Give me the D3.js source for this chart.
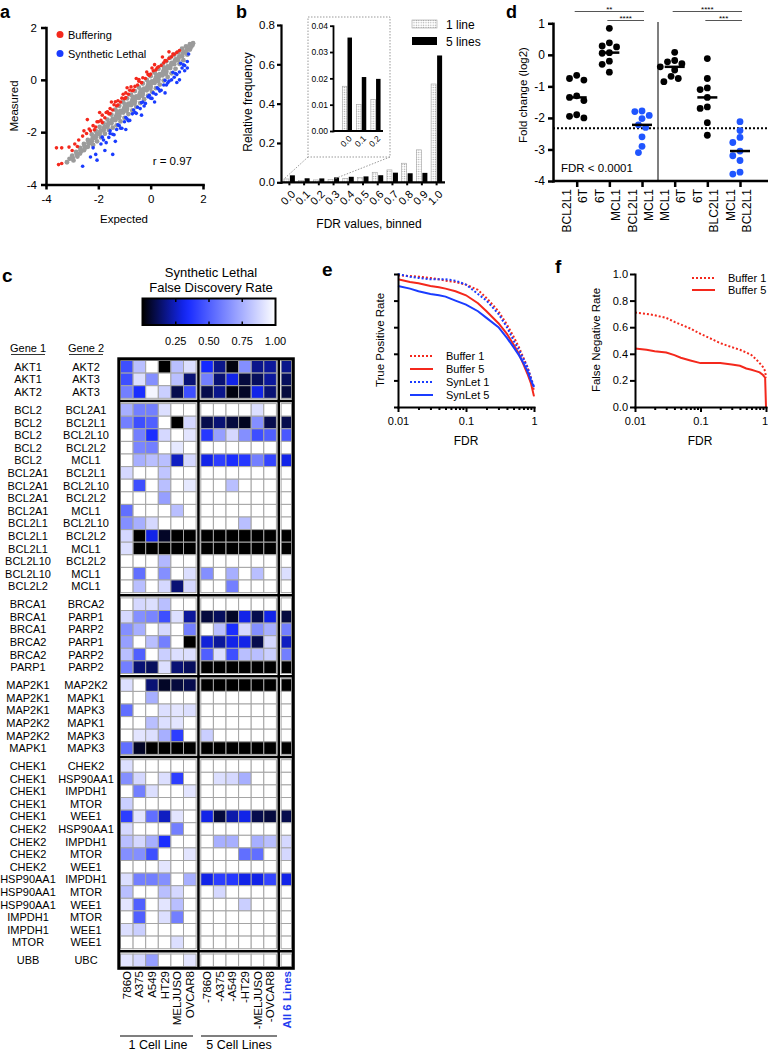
<!DOCTYPE html>
<html><head><meta charset="utf-8">
<script src="https://cdn.jsdelivr.net/npm/d3@7"></script>
<style>
body{margin:0;background:#fff;}
svg{display:block;font-family:"Liberation Sans",Arial,Helvetica,sans-serif;}
</style></head><body>
<svg id="chart" width="768" height="1050"></svg>
<script>
// ---------------- DATA ----------------
// Panel a: scatter (expected, measured)
const grayPts = [
[-3.2,-3.15],[-3.1,-3.02],[-3.0,-2.9],[-2.95,-3.08],[-2.85,-2.75],[-2.8,-2.93],
[-2.7,-2.6],[-2.65,-2.72],[-2.7,-2.82],[-2.55,-2.45],[-2.5,-2.6],[-2.55,-2.69],
[-2.4,-2.3],[-2.35,-2.43],[-2.4,-2.56],
[-2.25,-2.09],[-2.2,-2.22],[-2.25,-2.35],[-2.2,-2.49],
[-2.1,-1.95],[-2.05,-2.08],[-2.1,-2.21],[-2.05,-2.35],
[-1.95,-1.8],[-1.9,-1.94],[-1.95,-2.07],[-1.9,-2.2],
[-1.8,-1.66],[-1.75,-1.8],[-1.8,-1.93],[-1.75,-2.06],
[-1.65,-1.52],[-1.6,-1.65],[-1.65,-1.79],[-1.6,-1.92],
[-1.5,-1.33],[-1.45,-1.49],[-1.5,-1.66],[-1.45,-1.83],
[-1.35,-1.14],[-1.3,-1.34],[-1.35,-1.54],[-1.3,-1.74],
[-1.2,-0.99],[-1.15,-1.19],[-1.2,-1.39],[-1.15,-1.59],
[-1.05,-0.85],[-1.0,-1.05],[-1.05,-1.25],[-1.0,-1.45],
[-0.9,-0.71],[-0.85,-0.91],[-0.9,-1.11],[-0.85,-1.31],
[-0.75,-0.57],[-0.7,-0.77],[-0.75,-0.97],[-0.7,-1.17],
[-0.6,-0.43],[-0.55,-0.63],[-0.6,-0.83],[-0.55,-1.03],
[-0.45,-0.29],[-0.4,-0.49],[-0.45,-0.69],[-0.4,-0.89],
[-0.3,-0.14],[-0.25,-0.34],[-0.3,-0.54],[-0.25,-0.74],
[-0.15,0.0],[-0.1,-0.2],[-0.15,-0.4],[-0.1,-0.6],
[0.0,0.14],[0.05,-0.06],[0.0,-0.26],[0.05,-0.46],
[0.15,0.28],[0.2,0.08],[0.15,-0.12],[0.2,-0.32],
[0.3,0.42],[0.35,0.22],[0.3,0.02],[0.35,-0.18],
[0.45,0.57],[0.5,0.37],[0.45,0.17],[0.5,-0.03],
[0.6,0.71],[0.65,0.51],[0.6,0.31],[0.65,0.11],
[0.75,0.85],[0.8,0.65],[0.75,0.45],[0.8,0.25],
[0.9,0.96],[0.95,0.78],[0.9,0.6],[0.95,0.42],
[1.05,1.05],[1.1,0.9],[1.05,0.76],[1.1,0.61],
[1.2,1.19],[1.25,1.05],[1.2,0.9],[1.25,0.75],
[1.35,1.28],[1.4,1.17],[1.35,1.06],[1.4,0.96],
[1.5,1.36],[1.55,1.26],[1.5,1.16],
[1.62,1.4],[1.6,1.33],
[-2.98,-2.98],[-2.83,-2.83],[-2.68,-2.69],[-2.53,-2.55],[-2.38,-2.41],[-2.23,-2.27],[-2.08,-2.13],
[-1.93,-1.98],[-1.78,-1.84],[-1.63,-1.7],[-1.48,-1.56],[-1.33,-1.42],[-1.18,-1.28],[-1.03,-1.13],
[-0.88,-0.99],[-0.73,-0.85],[-0.58,-0.71],[-0.43,-0.57],[-0.28,-0.42],[-0.13,-0.28],[0.02,-0.14],
[0.17,0.0],[0.32,0.14],[0.47,0.28],[0.62,0.43],[0.77,0.57],[0.92,0.71],[1.07,0.85],[1.22,0.99],
[1.37,1.13],[1.52,1.28],
[-1.28,-1.22],[-0.98,-0.94],[-0.68,-0.66],[-0.38,-0.38],[-0.08,-0.1],[0.22,0.19],[0.52,0.47],
[-1.22,-1.46],[-0.92,-1.18],[-0.62,-0.9],[-0.32,-0.61],[-0.02,-0.33],[0.28,-0.05],[0.58,0.23]
];
const bufferPts = [
[-3.52,-3.24],[-3.4,-3.2],[-3.6,-2.6],[-3.4,-2.6],[-3.12,-2.57],[-2.9,-2.45],[-2.75,-2.3],
[-2.42,-1.52],[-2.6,-2.15],[-2.45,-2.05],[-2.3,-1.95],[-2.2,-1.75],[-2.1,-1.8],[-2.0,-1.6],
[-1.9,-1.55],[-1.85,-1.35],[-1.75,-1.45],[-1.7,-1.25],[-1.6,-1.3],[-1.55,-1.1],[-1.45,-1.15],
[-1.4,-0.95],[-1.3,-1.0],[-1.25,-0.8],[-1.15,-0.85],[-1.1,-0.7],[-1.0,-0.72],[-0.95,-0.5],
[-0.85,-0.55],[-0.8,-0.4],[-0.7,-0.42],[-0.6,-0.25],[-0.5,-0.2],[-0.45,-0.05],[-0.35,-0.1],
[-0.3,0.08],[-0.2,0.05],[-0.1,0.2],[0.0,0.22],[0.1,0.35],[0.2,0.38],[0.3,0.5],[0.4,0.55],
[0.5,0.65],[0.6,0.72],[0.7,0.82],[0.8,0.88],[0.9,0.98],[1.0,1.05],[1.1,1.12],
[-1.95,-1.25],[-1.5,-0.85],[-0.9,-0.3],[-0.55,0.05],[0.05,0.45],
[-2.15,-1.91],[-1.85,-1.63],[-1.55,-1.29],[-1.25,-0.96],[-0.95,-0.68],[-0.65,-0.39],[-0.35,-0.11],
[-0.05,0.17],[0.25,0.46],[0.55,0.74],[0.85,0.99],
[-2.35,-1.88],[-2.05,-1.6],[-1.65,-1.22],[-1.35,-0.84],[-1.05,-0.55],[-0.75,-0.27],[-0.45,0.01],
[-0.15,0.3],[0.15,0.58],[0.45,0.87],[0.7,1.07],[-2.55,-1.95],[-2.8,-2.55],[-3.0,-2.7]
];
const synLethalPts = [
[-2.6,-3.3],[-2.1,-2.85],[-2.05,-3.07],[-1.45,-2.85],[-2.2,-2.6],[-1.9,-2.45],[-1.8,-2.3],
[-1.7,-2.4],[-1.6,-2.2],[-1.55,-2.05],[-1.4,-2.1],[-1.3,-1.9],[-1.2,-1.75],[-1.1,-1.85],
[-1.0,-1.6],[-0.9,-1.5],[-0.8,-1.55],[-0.7,-1.3],[-0.6,-1.25],[-0.5,-1.05],[-0.4,-1.1],
[-0.3,-0.85],[-0.2,-0.9],[-0.1,-0.65],[0.0,-0.7],[0.1,-0.5],[0.2,-0.55],[0.3,-0.35],
[0.4,-0.4],[0.5,-0.2],[0.6,-0.2],[0.7,-0.05],[0.8,0.0],[0.9,0.1],[1.0,0.2],[1.1,0.3],
[1.2,0.45],[1.3,0.55],[1.4,0.7],[-1.35,-2.35],[-0.95,-1.9],[-0.35,-1.35],[0.15,-0.85],
[0.55,-0.5],[1.0,-0.1],[-1.75,-2.7],[-2.3,-2.95],[1.1,0.0],
[-1.85,-2.19],[-1.55,-1.95],[-1.25,-1.72],[-0.95,-1.44],[-0.65,-1.15],[-0.35,-0.87],[-0.05,-0.59],
[0.25,-0.3],[0.55,-0.02],[0.85,0.29],[1.15,0.63],[1.45,0.99],
[-1.45,-2.08],[-1.15,-1.85],[-0.85,-1.56],[-0.55,-1.28],[-0.25,-1.0],[0.05,-0.71],[0.35,-0.43],
[0.65,-0.12],[0.95,0.24],[1.25,0.57],[1.4,0.45],[1.3,0.35]
];
const scatterR = "r = 0.97";
const aTicks = [-4,-2,0,2];

// Panel b: FDR histogram
const fdrBins = ["0.0","0.1","0.2","0.3","0.4","0.5","0.6","0.7","0.8","0.9","1.0"];
const oneLine  = [0.017,0.010,0.012,0.015,0.020,0.025,0.051,0.063,0.097,0.165,0.50];
const fiveLines= [0.0355,0.0205,0.0198,0.025,0.028,0.030,0.036,0.049,0.046,0.048,0.645];
const insetBins = ["0.0","0.1","0.2"];
const bTicks = [0,0.2,0.4,0.6,0.8];
const insetTicks = [0,0.01,0.02,0.03,0.04];

// Panel c: heatmap
const gene1 = ["AKT1","AKT1","AKT2",
"BCL2","BCL2","BCL2","BCL2","BCL2","BCL2A1","BCL2A1","BCL2A1","BCL2A1","BCL2L1","BCL2L1","BCL2L1","BCL2L10","BCL2L10","BCL2L2",
"BRCA1","BRCA1","BRCA1","BRCA2","BRCA2","PARP1",
"MAP2K1","MAP2K1","MAP2K1","MAP2K2","MAP2K2","MAPK1",
"CHEK1","CHEK1","CHEK1","CHEK1","CHEK1","CHEK2","CHEK2","CHEK2","CHEK2","HSP90AA1","HSP90AA1","HSP90AA1","IMPDH1","IMPDH1","MTOR",
"UBB"];
const gene2 = ["AKT2","AKT3","AKT3",
"BCL2A1","BCL2L1","BCL2L10","BCL2L2","MCL1","BCL2L1","BCL2L10","BCL2L2","MCL1","BCL2L10","BCL2L2","MCL1","BCL2L2","MCL1","MCL1",
"BRCA2","PARP1","PARP2","PARP1","PARP2","PARP2",
"MAP2K2","MAPK1","MAPK3","MAPK1","MAPK3","MAPK3",
"CHEK2","HSP90AA1","IMPDH1","MTOR","WEE1","HSP90AA1","IMPDH1","MTOR","WEE1","IMPDH1","MTOR","WEE1","MTOR","WEE1","WEE1",
"UBC"];
const groupSizes = [3,15,6,6,15,1];
const cellLines1 = ["786O","A375","A549","HT29","MELJUSO","OVCAR8"];
const cellLines5 = ["-786O","-A375","-A549","-HT29","-MELJUSO","-OVCAR8"];
const allLines = ["All 6 Lines"];
const fdrMatrix = [
[0.45,0.8,1,0,0.8,0.9, 0.33,0.18,0.02,0.65,0.18,0.2, 0.18],
[0.45,0.9,0.65,1,0.8,0.15, 0.6,0.15,0.3,0.08,0.12,0.2, 0.12],
[0.6,0.35,0.97,0.85,0.1,0.45, 0.1,0.18,0.02,0.05,0.3,0.15, 0.08],
[0.75,0.6,0.6,0.9,1,1, 1,1,1,1,0.9,1, 1],
[0.6,0.45,0.5,1,0,0.88, 0.1,0.15,0.08,0.04,0.65,0.1, 0.1],
[1,0.6,0.35,0.88,1,0.92, 0.38,0.7,0.88,0.65,0.45,0.5, 0.48],
[1,0.62,0.6,1,0.93,1, 1,1,1,1,1,1, 1],
[1,0.75,0.8,0.8,0.25,0.88, 0.3,0.4,0.35,0.38,0.6,0.42, 0.3],
[0.88,1,1,0.82,1,1, 1,1,1,1,1,1, 1],
[1,0.45,1,0.8,1,0.93, 1,1,0.8,1,1,1, 1],
[1,1,1,0.7,1,1, 1,1,1,1,1,1, 1],
[0.55,1,1,1,0.8,1, 1,1,1,1,1,1, 1],
[0.65,0.75,0.88,1,1,1, 1,1,1,0.8,1,1, 1],
[0.88,0,0.3,0.05,0,0, 0,0,0,0,0,0, 0],
[0.9,0,0,0,0,0, 0,0,0,0,0,0, 0],
[1,1,1,0.78,1,1, 1,1,1,1,1,1, 1],
[1,0.55,1,0.65,1,0.9, 0.65,1,0.75,1,0.8,1, 0.9],
[1,0.8,1,0.88,0.15,0.88, 1,1,0.6,1,1,1, 1],
[1,0.88,0.9,0.8,1,1, 1,1,1,1,1,1, 1],
[0.88,0.65,0.62,0.45,0.9,0.2, 0.08,0.12,0.05,0.3,0.1,0.3, 0.08],
[0.65,0.75,1,0.88,1,0.6, 1,0.8,0.35,0.88,0.65,0.75, 0.6],
[0.7,1,0.8,0.6,1,0, 0.28,0.2,0.3,0.3,0.1,0.88, 0.25],
[0.8,0.5,1,0.85,0.9,0.9, 0.5,0.9,0.45,0.8,0.8,0.85, 0.6],
[0.6,0.15,0.12,0.9,0.15,0.12, 0,0,0,0,0,0, 0],
[0.9,1,0.15,0.05,0.08,0.1, 0,0,0,0,0,0, 0],
[1,1,0.75,1,1,1, 1,1,1,1,1,1, 1],
[0.55,1,1,0.9,0.92,0.9, 1,1,1,1,1,1, 1],
[1,1,0.8,0.9,0.92,1, 1,1,1,1,1,1, 1],
[1,0.92,0.9,0.75,0.4,1, 0.85,1,1,1,1,1, 1],
[0.55,0.05,0,0,0,0, 0,0,0,0,0,0, 0],
[0.9,1,1,1,1,1, 1,1,1,1,1,1, 1],
[0.65,0.88,1,0.9,0.4,1, 1,0.9,0.88,0.75,1,1, 1],
[1,0.6,0.9,1,1,0.92, 1,1,1,1,1,1, 1],
[0.85,1,1,1,1,1, 1,1,1,1,1,1, 1],
[0.4,0.92,0.55,0.25,0.92,1, 0.3,0.08,0.22,0.3,0.1,0.08, 0.1],
[0.88,1,1,1,0.6,1, 1,1,1,1,1,1, 1],
[0.8,0.88,0.75,0.35,1,1, 1,0.75,0.75,1,0.75,0.8, 0.88],
[0.65,0.65,0.45,1,1,0.92, 1,1,1,0.55,0.55,1, 0.88],
[1,1,1,0.92,1,1, 1,1,1,1,1,1, 1],
[0.9,0.6,0.6,0.65,1,0.75, 0.3,0.4,0.38,0.3,0.3,0.42, 0.3],
[0.8,1,1,0.8,0.88,1, 1,0.88,1,1,1,1, 1],
[0.92,0.5,1,0.92,0.8,1, 1,1,1,0.85,1,1, 1],
[1,0.5,1,0.9,0.6,1, 1,1,1,1,1,1, 1],
[0.9,0.85,1,1,1,1, 1,1,1,1,1,1, 1],
[1,1,1,1,0.9,1, 1,1,1,1,1,1, 1],
[0.92,0.88,0.7,1,1,0.92, 1,1,1,1,1,1, 1]
];
const legendTicks = [0.25,0.5,0.75,1.0];

// Panel d: fold changes
const dLabels = [["BCL2L1","6T"],["6T","MCL1"],["BCL2L1","MCL1"],["MCL1","6T"],["6T","BLC2L1"],["MCL1","BCL2L1"]];
const dValues = [
[-0.65,-0.75,-0.8,-1.3,-1.35,-1.45,-1.9,-1.95,-2.0],
[0.84,0.38,0.28,0.25,0.07,0.05,-0.2,-0.3,-0.55],
[-1.78,-1.8,-1.92,-2.02,-2.22,-2.3,-2.6,-2.9,-3.1],
[0.08,-0.18,-0.22,-0.28,-0.38,-0.48,-0.68,-0.75,-0.85],
[-0.12,-0.75,-1.05,-1.1,-1.35,-1.65,-1.7,-2.15,-2.55],
[-2.12,-2.4,-2.62,-2.78,-3.05,-3.2,-3.35,-3.72,-3.78]
];
const dSynLethal = [false,false,true,false,false,true];
const dThreshold = -2.33;
const dYTicks = [-4,-3,-2,-1,0,1];
const dSig = [[0,2,"**",1],[1,2,"****",2],[3,5,"****",1],[4,5,"***",2]];

// Panel e / f: rates vs FDR
const eFDR = [0.01,0.015,0.02,0.03,0.04,0.05,0.07,0.1,0.15,0.2,0.3,0.4,0.5,0.6,0.7,0.8,0.9,1.0];
const eBuffer1 = [0.99,0.985,0.98,0.97,0.96,0.95,0.94,0.92,0.88,0.82,0.72,0.62,0.53,0.45,0.37,0.3,0.22,0.12];
const eBuffer5 = [0.96,0.94,0.93,0.91,0.9,0.89,0.87,0.84,0.78,0.72,0.63,0.55,0.47,0.4,0.32,0.25,0.18,0.08];
const eSynLet1 = [1.0,0.98,0.97,0.96,0.96,0.96,0.95,0.92,0.85,0.8,0.7,0.6,0.5,0.43,0.36,0.3,0.22,0.15];
const eSynLet5 = [0.91,0.89,0.87,0.85,0.84,0.83,0.8,0.77,0.72,0.67,0.6,0.52,0.45,0.39,0.33,0.27,0.2,0.15];
const fFDR = [0.01,0.015,0.02,0.03,0.04,0.05,0.07,0.1,0.15,0.2,0.3,0.4,0.5,0.6,0.7,0.8,0.9,0.97,1.0];
const fBuffer1 = [0.71,0.70,0.69,0.67,0.64,0.62,0.59,0.55,0.51,0.48,0.45,0.43,0.41,0.39,0.36,0.33,0.30,0.27,0.22];
const fBuffer5 = [0.44,0.43,0.42,0.41,0.39,0.37,0.35,0.33,0.33,0.33,0.32,0.31,0.29,0.28,0.27,0.26,0.24,0.22,0.0];
const logMajor = [0.01,0.1,1];
const logMinor = [0.02,0.03,0.04,0.05,0.06,0.07,0.08,0.09,0.2,0.3,0.4,0.5,0.6,0.7,0.8,0.9];
const rateTicks = [0,0.2,0.4,0.6,0.8,1.0];

// ---------------- DRAWING ----------------
const FONT = '"Liberation Sans", Arial, Helvetica, sans-serif';
const RED = "#f4281c", BLUE = "#1a3cff", BLUE_PT = "#1f55ff";
const svg = d3.select("#chart");
svg.append("rect").attr("width",768).attr("height",1050).attr("fill","#fff");
const defs = svg.append("defs");
const intFmt = d => String(d);

function styleAxis(g, sw, fs){
  g.attr("font-family", FONT).attr("font-size", fs);
  g.select(".domain").attr("stroke","#000").attr("stroke-width", sw).attr("stroke-linecap","square");
  g.selectAll(".tick line").attr("stroke","#000").attr("stroke-width", sw);
  g.selectAll(".tick text").attr("fill","#000");
  return g;
}
function txt(x,y,s,fs,opts={}){
  const t = svg.append("text").attr("x",x).attr("y",y).attr("font-size",fs).attr("font-family",FONT).text(s);
  if(opts.anchor) t.attr("text-anchor",opts.anchor);
  if(opts.weight) t.attr("font-weight",opts.weight);
  if(opts.fill) t.attr("fill",opts.fill);
  if(opts.rotate!==undefined) t.attr("transform",`rotate(${opts.rotate},${x},${y})`);
  if(opts.dy) t.attr("dy",opts.dy);
  return t;
}
// panel letters
txt(0,18,"a",18,{weight:"bold"});
txt(236,18,"b",18,{weight:"bold"});
txt(506,18,"d",18,{weight:"bold"});
txt(2,282,"c",19,{weight:"bold"});
txt(322,276,"e",19,{weight:"bold"});
txt(555,273,"f",19,{weight:"bold"});

// ===== Panel a =====
(function(){
  const x = d3.scaleLinear().domain([-4,2]).range([46,203]);
  const y = d3.scaleLinear().domain([-4,2]).range([184.5,27.5]);
  const g = svg.append("g");
  g.selectAll("circle.gr").data(grayPts).join("circle").attr("class","gr")
    .attr("cx",d=>x(d[0])).attr("cy",d=>y(d[1])).attr("r",2.4).attr("fill","#9b9b9b");
  g.selectAll("circle.bf").data(bufferPts).join("circle").attr("class","bf")
    .attr("cx",d=>x(d[0])).attr("cy",d=>y(d[1])).attr("r",1.8).attr("fill",RED);
  g.selectAll("circle.sl").data(synLethalPts).join("circle").attr("class","sl")
    .attr("cx",d=>x(d[0])).attr("cy",d=>y(d[1])).attr("r",1.8).attr("fill",BLUE);
  styleAxis(svg.append("g").attr("transform","translate(0,184.5)")
    .call(d3.axisBottom(x).tickValues(aTicks).tickFormat(intFmt).tickSize(5).tickSizeOuter(0).tickPadding(5)),2.5,11.5);
  styleAxis(svg.append("g").attr("transform","translate(46,0)")
    .call(d3.axisLeft(y).tickValues(aTicks).tickFormat(intFmt).tickSize(5).tickSizeOuter(0).tickPadding(4)),2.5,11.5);
  txt(18,106,"Measured",11.5,{anchor:"middle",rotate:-90});
  txt(124,223,"Expected",11.5,{anchor:"middle"});
  svg.append("circle").attr("cx",60).attr("cy",34.5).attr("r",3.5).attr("fill",RED);
  txt(68,38.5,"Buffering",11);
  svg.append("circle").attr("cx",60).attr("cy",53.5).attr("r",3.5).attr("fill",BLUE);
  txt(68,57.5,"Synthetic Lethal",11);
  txt(192,165,scatterR,11.5,{anchor:"end"});
})();

// ===== Panel b =====
(function(){
  const pat = defs.append("pattern").attr("id","dots").attr("width",2.4).attr("height",2.4)
    .attr("patternUnits","userSpaceOnUse");
  pat.append("rect").attr("width",2.4).attr("height",2.4).attr("fill","#fff");
  pat.append("circle").attr("cx",1.2).attr("cy",1.2).attr("r",0.65).attr("fill","#9a9a9a");

  const x = d3.scaleBand().domain(fdrBins).range([281,445]).paddingOuter(0.07);
  const y = d3.scaleLinear().domain([0,0.8]).range([182.3,25]);
  const g = svg.append("g");
  g.selectAll("rect.h").data(fdrBins).join("rect").attr("class","h")
    .attr("x",d=>x(d)+x.bandwidth()/2-5.5).attr("width",5)
    .attr("y",(d,i)=>y(oneLine[i])).attr("height",(d,i)=>y(0)-y(oneLine[i]))
    .attr("fill","url(#dots)").attr("stroke","#a0a0a0").attr("stroke-width",0.6);
  g.selectAll("rect.k").data(fdrBins).join("rect").attr("class","k")
    .attr("x",d=>x(d)+x.bandwidth()/2+0.5).attr("width",5)
    .attr("y",(d,i)=>y(fiveLines[i])).attr("height",(d,i)=>y(0)-y(fiveLines[i]))
    .attr("fill","#000");
  styleAxis(svg.append("g").attr("transform","translate(281,0)")
    .call(d3.axisLeft(y).tickValues(bTicks).tickFormat(d3.format(".1f")).tickSize(4).tickSizeOuter(0).tickPadding(2)),2.2,11.5);
  const xa = svg.append("g").attr("transform","translate(0,182.3)")
    .call(d3.axisBottom(x).tickSize(3).tickSizeOuter(0));
  styleAxis(xa,2,11);
  xa.select(".domain").remove();
  xa.selectAll(".tick text").attr("x",0).attr("y",0).attr("dy","0.35em")
    .attr("text-anchor","end").attr("transform","translate(4,10) rotate(-45)");
  svg.append("line").attr("x1",281).attr("x2",445).attr("y1",182.3).attr("y2",182.3)
    .attr("stroke","#000").attr("stroke-width",2.2);
  txt(252,102,"Relative frequency",12,{anchor:"middle",rotate:-90});
  txt(369,228,"FDR values, binned",12,{anchor:"middle"});

  // inset
  svg.append("rect").attr("x",308).attr("y",17).attr("width",82).attr("height",140)
    .attr("fill","#fff").attr("stroke","#999").attr("stroke-width",1).attr("stroke-dasharray","1.5,1.5");
  svg.append("line").attr("x1",308).attr("y1",157).attr("x2",284).attr("y2",179)
    .attr("stroke","#999").attr("stroke-width",1).attr("stroke-dasharray","1.5,1.5");
  svg.append("line").attr("x1",390).attr("y1",157).attr("x2",334).attr("y2",179)
    .attr("stroke","#999").attr("stroke-width",1).attr("stroke-dasharray","1.5,1.5");
  const xi = d3.scaleBand().domain(insetBins).range([333,383]).paddingOuter(0.25).align(1);
  const yi = d3.scaleLinear().domain([0,0.04]).range([131,25.7]);
  const gi = svg.append("g");
  gi.selectAll("rect.h").data(insetBins).join("rect").attr("class","h")
    .attr("x",d=>xi(d)+xi.bandwidth()/2-5).attr("width",4.5)
    .attr("y",(d,i)=>yi(oneLine[i])).attr("height",(d,i)=>yi(0)-yi(oneLine[i]))
    .attr("fill","url(#dots)").attr("stroke","#a0a0a0").attr("stroke-width",0.6);
  gi.selectAll("rect.k").data(insetBins).join("rect").attr("class","k")
    .attr("x",d=>xi(d)+xi.bandwidth()/2+0.2).attr("width",4.5)
    .attr("y",(d,i)=>yi(fiveLines[i])).attr("height",(d,i)=>yi(0)-yi(fiveLines[i]))
    .attr("fill","#000");
  styleAxis(svg.append("g").attr("transform","translate(333,0)")
    .call(d3.axisLeft(yi).tickValues(insetTicks).tickFormat(d3.format(".2f")).tickSize(3).tickSizeOuter(0).tickPadding(2)),1.8,8.5);
  const xia = svg.append("g").attr("transform","translate(0,131)")
    .call(d3.axisBottom(xi).tickSize(0).tickSizeOuter(0));
  styleAxis(xia,1.8,8.5);
  xia.select(".domain").remove();
  xia.selectAll(".tick text").attr("x",0).attr("y",0).attr("dy","0.35em")
    .attr("text-anchor","end").attr("transform","translate(3,6) rotate(-45)");
  svg.append("line").attr("x1",333).attr("x2",383).attr("y1",131).attr("y2",131)
    .attr("stroke","#000").attr("stroke-width",1.8);

  // legend
  svg.append("rect").attr("x",412).attr("y",20).attr("width",25).attr("height",8)
    .attr("fill","url(#dots)").attr("stroke","#a0a0a0").attr("stroke-width",0.6);
  txt(446,28.5,"1 line",12);
  svg.append("rect").attr("x",412).attr("y",37).attr("width",25).attr("height",8).attr("fill","#000");
  txt(446,45.5,"5 lines",12);
})();

// ===== Panel d =====
(function(){
  const x = d3.scalePoint().domain(d3.range(6)).range([576.7,740]);
  const y = d3.scaleLinear().domain([-4,1]).range([181,23.3]);
  svg.append("line").attr("x1",553).attr("x2",768).attr("y1",y(dThreshold)).attr("y2",y(dThreshold))
    .attr("stroke","#000").attr("stroke-width",2).attr("stroke-dasharray","2,2");
  svg.append("line").attr("x1",658).attr("x2",658).attr("y1",22).attr("y2",181)
    .attr("stroke","#555").attr("stroke-width",1.5);
  const r = 3.4;
  dValues.forEach((vals,gi)=>{
    const cx = x(gi);
    const placed = [];
    const cands = [0,-3.6,3.6,-7.2,7.2,-10.8,10.8,-14.4,14.4];
    const pts = vals.map(v=>{
      const py = y(v);
      let off = 0;
      for(const c of cands){
        if(placed.every(p=>Math.hypot(p[0]-(cx+c),p[1]-py) >= 2*r)){ off = c; break; }
      }
      placed.push([cx+off,py]);
      return [cx+off,py];
    });
    svg.append("g").selectAll("circle").data(pts).join("circle")
      .attr("cx",d=>d[0]).attr("cy",d=>d[1]).attr("r",r)
      .attr("fill",dSynLethal[gi]?BLUE_PT:"#000");
    const m = d3.median(vals);
    svg.append("line").attr("x1",cx-10).attr("x2",cx+10).attr("y1",y(m)).attr("y2",y(m))
      .attr("stroke","#000").attr("stroke-width",2.5);
  });
  styleAxis(svg.append("g").attr("transform","translate(553,0)")
    .call(d3.axisLeft(y).tickValues(dYTicks).tickFormat(intFmt).tickSize(5).tickSizeOuter(0).tickPadding(3)),2.5,12);
  const xa = svg.append("g").attr("transform","translate(0,181)")
    .call(d3.axisBottom(x).tickSize(6).tickFormat(""));
  styleAxis(xa,2.5,12);
  xa.select(".domain").remove();
  svg.append("line").attr("x1",553).attr("x2",768).attr("y1",181).attr("y2",181)
    .attr("stroke","#000").attr("stroke-width",2.5);
  dLabels.forEach((pair,i)=>{
    const cx = x(i);
    txt(cx-9.5,189,pair[0],12,{anchor:"end",rotate:-90,dy:"0.35em"});
    txt(cx+6.5,189,pair[1],12,{anchor:"end",rotate:-90,dy:"0.35em"});
  });
  dSig.forEach(([a,b,s,lvl])=>{
    const yy = lvl===1?11.5:20.5;
    svg.append("line").attr("x1",x(a)-2).attr("x2",x(b)+2).attr("y1",yy).attr("y2",yy)
      .attr("stroke","#555").attr("stroke-width",1);
    txt((x(a)+x(b))/2,yy+0.5,s,8,{anchor:"middle"});
  });
  txt(561,172,"FDR < 0.0001",11.5);
  txt(523,95,"Fold change (log2)",11.5,{anchor:"middle",rotate:-90,dy:"0.35em"});
})();

// ===== Panel e & f =====
function logAxis(tx,ty,scale){
  const g = svg.append("g").attr("transform",`translate(${tx},${ty})`)
    .call(d3.axisBottom(scale).tickValues(logMajor.concat(logMinor)).tickSize(5).tickSizeOuter(0).tickPadding(5)
      .tickFormat(d=>logMajor.includes(d)?String(d):""));
  styleAxis(g,2,11);
  g.selectAll(".tick").filter(d=>!logMajor.includes(d)).select("line").attr("y2",3);
  return g;
}
(function(){
  const x = d3.scaleLog().domain([0.01,1]).range([398,534]);
  const y = d3.scaleLinear().domain([0,1]).range([407,274]);
  const line = d3.line().x(d=>x(d[0])).y(d=>y(d[1]));
  const series = [
    [eBuffer1,RED,"2,2","Buffer 1"],[eBuffer5,RED,null,"Buffer 5"],
    [eSynLet1,BLUE,"2,2","SynLet 1"],[eSynLet5,BLUE,null,"SynLet 5"]];
  series.forEach(([vals,col,dash,name],i)=>{
    const p = svg.append("path").datum(eFDR.map((f,k)=>[f,vals[k]])).attr("d",line)
      .attr("fill","none").attr("stroke",col).attr("stroke-width",2);
    if(dash) p.attr("stroke-dasharray",dash);
    const ly = 356+i*13;
    const l = svg.append("line").attr("x1",410).attr("x2",433).attr("y1",ly).attr("y2",ly)
      .attr("stroke",col).attr("stroke-width",2);
    if(dash) l.attr("stroke-dasharray",dash);
    txt(446,ly+4,name,11);
  });
  logAxis(0,407,x);
  styleAxis(svg.append("g").attr("transform","translate(398,0)")
    .call(d3.axisLeft(y).tickValues(rateTicks).tickSize(4).tickSizeOuter(0).tickFormat("")),2,11);
  txt(384,340,"True Positive Rate",11.5,{anchor:"middle",rotate:-90});
  txt(466,445,"FDR",12,{anchor:"middle"});
})();
(function(){
  const x = d3.scaleLog().domain([0.01,1]).range([635,766]);
  const y = d3.scaleLinear().domain([0,1]).range([407,274]);
  const line = d3.line().x(d=>x(d[0])).y(d=>y(d[1]));
  const series = [[fBuffer1,"2,2","Buffer 1"],[fBuffer5,null,"Buffer 5"]];
  series.forEach(([vals,dash,name],i)=>{
    const p = svg.append("path").datum(fFDR.map((f,k)=>[f,vals[k]])).attr("d",line)
      .attr("fill","none").attr("stroke",RED).attr("stroke-width",2);
    if(dash) p.attr("stroke-dasharray",dash);
    const ly = 278+i*12;
    const l = svg.append("line").attr("x1",692).attr("x2",715).attr("y1",ly).attr("y2",ly)
      .attr("stroke",RED).attr("stroke-width",2);
    if(dash) l.attr("stroke-dasharray",dash);
    txt(728,ly+4,name,11);
  });
  const fx = logAxis(0,407,x);
  fx.selectAll(".tick").filter(d=>d===1).select("text").attr("text-anchor","end").attr("dx","1.5");
  styleAxis(svg.append("g").attr("transform","translate(635,0)")
    .call(d3.axisLeft(y).tickValues(rateTicks).tickFormat(d3.format(".1f")).tickSize(5).tickSizeOuter(0).tickPadding(2)),2,11);
  txt(600,340,"False Negative Rate",11.5,{anchor:"middle",rotate:-90});
  txt(700,445,"FDR",12,{anchor:"middle"});
})();

// ===== Panel c =====
(function(){
  const color = d3.scaleLinear().domain([0,0.33,1]).range(["#000000","#1428ff","#ffffff"]);
  txt(211,276.5,"Synthetic Lethal",13,{anchor:"middle"});
  txt(211,292,"False Discovery Rate",13,{anchor:"middle"});
  const lx = d3.scaleLinear().domain([0,1]).range([142.5,275.5]);
  const grad = defs.append("linearGradient").attr("id","fdrgrad");
  d3.range(0,1.0001,0.05).forEach(t=>grad.append("stop").attr("offset",t).attr("stop-color",color(t)));
  svg.append("rect").attr("x",lx(0)).attr("y",298.5).attr("width",lx(1)-lx(0)).attr("height",26.5)
    .attr("fill","url(#fdrgrad)").attr("stroke","#000").attr("stroke-width",2);
  legendTicks.slice(0,3).forEach(t=>{
    svg.append("line").attr("x1",lx(t)).attr("x2",lx(t)).attr("y1",298.5).attr("y2",302)
      .attr("stroke","#000").attr("stroke-width",1.5);
    svg.append("line").attr("x1",lx(t)).attr("x2",lx(t)).attr("y1",321.5).attr("y2",325)
      .attr("stroke","#000").attr("stroke-width",1.5);
  });
  legendTicks.forEach(t=>txt(lx(t),345,d3.format(".2f")(t),11,{anchor:"middle"}));

  const rowH = 12.6, gap = 5.3, top0 = 360.5;
  const groupOf = [];
  groupSizes.forEach((n,g)=>{for(let k=0;k<n;k++) groupOf.push(g);});
  const rowY = gene1.map((_,i)=>top0 + i*rowH + groupOf[i]*gap);
  const x1 = d3.scaleBand().domain(cellLines1).range([120.5,196.1]);
  const x2 = d3.scaleBand().domain(cellLines5).range([200.8,276.4]);
  const x3 = d3.scaleBand().domain(allLines).range([281.1,291.6]);
  const cols = cellLines1.map(c=>[x1(c),x1.bandwidth()])
    .concat(cellLines5.map(c=>[x2(c),x2.bandwidth()]))
    .concat(allLines.map(c=>[x3(c),x3.bandwidth()]));
  const cells = [];
  fdrMatrix.forEach((row,i)=>row.forEach((v,j)=>cells.push({i,j,v})));
  svg.append("g").selectAll("rect").data(cells).join("rect")
    .attr("x",d=>cols[d.j][0]).attr("y",d=>rowY[d.i]).attr("width",d=>cols[d.j][1]).attr("height",rowH)
    .attr("fill",d=>color(d.v)).attr("stroke","#a5a5a5").attr("stroke-width",1);
  const left = 118.8, right = 293.3, top = 358.8, bottom = 968.3;
  [198.45,278.75].forEach(xx=>svg.append("line").attr("x1",xx).attr("x2",xx).attr("y1",top).attr("y2",bottom)
    .attr("stroke","#000").attr("stroke-width",2.5));
  let acc = 0;
  groupSizes.slice(0,-1).forEach((n,g)=>{
    acc += n;
    const yy = top0 + acc*rowH + g*gap + gap/2;
    svg.append("line").attr("x1",left).attr("x2",right).attr("y1",yy).attr("y2",yy)
      .attr("stroke","#000").attr("stroke-width",2.5);
  });
  svg.append("rect").attr("x",left).attr("y",top).attr("width",right-left).attr("height",bottom-top)
    .attr("fill","none").attr("stroke","#000").attr("stroke-width",3);
  txt(28,352,"Gene 1",11,{anchor:"middle"});
  txt(86,352,"Gene 2",11,{anchor:"middle"});
  svg.append("line").attr("x1",11).attr("x2",45).attr("y1",354.5).attr("y2",354.5).attr("stroke","#000").attr("stroke-width",0.8);
  svg.append("line").attr("x1",69).attr("x2",103).attr("y1",354.5).attr("y2",354.5).attr("stroke","#000").attr("stroke-width",0.8);
  gene1.forEach((g,i)=>txt(28,rowY[i]+rowH/2+4,g,11,{anchor:"middle"}));
  gene2.forEach((g,i)=>txt(86,rowY[i]+rowH/2+4,g,11,{anchor:"middle"}));
  cellLines1.forEach(c=>txt(x1(c)+x1.bandwidth()/2,971,c,11.5,{anchor:"end",rotate:-90,dy:"0.35em"}));
  cellLines5.forEach(c=>txt(x2(c)+x2.bandwidth()/2,971,c,11.5,{anchor:"end",rotate:-90,dy:"0.35em"}));
  allLines.forEach(c=>txt(x3(c)+x3.bandwidth()/2+0.5,971,c,11.5,{anchor:"end",rotate:-90,dy:"0.35em",weight:"bold",fill:"#1f3cf0"}));
  svg.append("line").attr("x1",120).attr("x2",193).attr("y1",1036).attr("y2",1036).attr("stroke","#000").attr("stroke-width",1.2);
  svg.append("line").attr("x1",201).attr("x2",277).attr("y1",1036).attr("y2",1036).attr("stroke","#000").attr("stroke-width",1.2);
  txt(158,1048.5,"1 Cell Line",12.5,{anchor:"middle"});
  txt(239,1048.5,"5 Cell Lines",12.5,{anchor:"middle"});
})();
</script></body></html>
